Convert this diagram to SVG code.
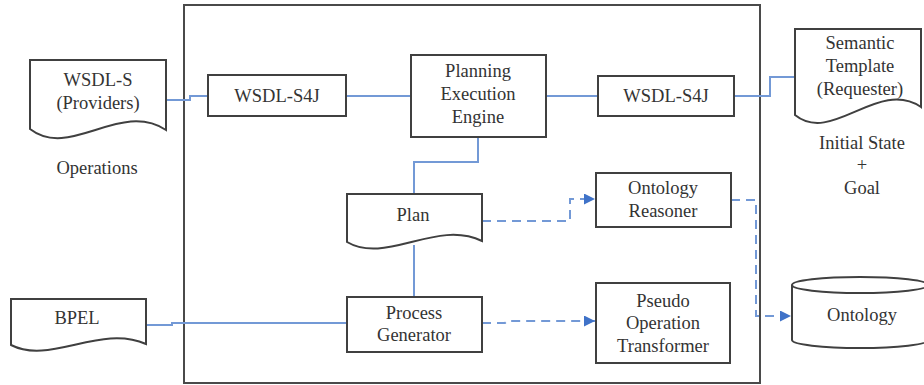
<svg xmlns="http://www.w3.org/2000/svg" width="924" height="385" viewBox="0 0 924 385">
  <style>
    .shape { fill: #ffffff; stroke: #404040; stroke-width: 2; }
    .frame { fill: none; stroke: #4a4a4a; stroke-width: 2; }
    .label { font-family: Liberation Serif, Tinos, Times New Roman, Times, DejaVu Serif, serif; font-size: 18.5px; fill: #333333; text-anchor: middle; }
    .link { fill: none; stroke: #7399d6; stroke-width: 2; }
    .dash { fill: none; stroke: #7399d6; stroke-width: 2; stroke-dasharray: 9 6; }
  </style>
  <defs>
    <marker id="arrow" viewBox="0 0 10 10" refX="10" refY="5" markerWidth="12" markerHeight="11" markerUnits="userSpaceOnUse" orient="auto">
      <path d="M0,0 L10,5 L0,10 Z" fill="#3f72c8"/>
    </marker>
  </defs>

  <rect fill="#ffffff" x="0" y="0" width="924" height="385"/>

  <!-- system boundary -->
  <rect class="frame" x="184" y="5" width="576" height="378"/>

  <!-- connectors -->
  <g id="connectors">
    <polyline class="link" points="166,100 190,100 190,96 208,96"/>
    <line class="link" x1="346" y1="96" x2="411" y2="96"/>
    <line class="link" x1="546" y1="96" x2="598" y2="96"/>
    <polyline class="link" points="734,96 770,96 770,77 795,77"/>
    <polyline class="link" points="478,137 478,162 414,162 414,194"/>
    <line class="link" x1="414" y1="245" x2="414" y2="297"/>
    <polyline class="link" points="146,325 172,325 172,323 347,323"/>
    <polyline class="dash" points="482,221 570,221 570,199 595,199" marker-end="url(#arrow)"/>
    <polyline class="dash" points="731,200 756,200 756,316 791,316" marker-end="url(#arrow)"/>
    <polyline class="dash" points="482,323 505,323 507,321 595,321" marker-end="url(#arrow)"/>
  </g>

  <!-- external inputs -->
  <g id="wsdl-s">
    <path class="shape" d="M30,60 H166 V130 C120,100 70,160 30,129 Z"/>
    <text class="label" x="98" y="86">WSDL-S</text>
    <text class="label" x="98" y="109">(Providers)</text>
    <text class="label" x="97" y="174">Operations</text>
  </g>

  <g id="bpel">
    <path class="shape" d="M11,299 H146 V344 C100,324 50,365 11,345 Z"/>
    <text class="label" x="77" y="324">BPEL</text>
  </g>

  <g id="semantic-template">
    <path class="shape" d="M795,29 H921 V107 C878,78 832,145 795,115 Z"/>
    <text class="label" x="860" y="49">Semantic</text>
    <text class="label" x="860" y="72">Template</text>
    <text class="label" x="860" y="95">(Requester)</text>
    <text class="label" x="862" y="149">Initial State</text>
    <text class="label" x="862" y="171">+</text>
    <text class="label" x="862" y="194">Goal</text>
  </g>

  <g id="ontology">
    <path class="shape" d="M792,285 V340 A68,8 0 0 0 928,340 V285"/>
    <ellipse class="shape" cx="860" cy="285" rx="68" ry="8"/>
    <text class="label" x="862" y="321">Ontology</text>
  </g>

  <!-- internal components -->
  <g id="wsdl-s4j-left">
    <rect class="shape" x="208" y="75" width="138" height="41"/>
    <text class="label" x="277" y="102">WSDL-S4J</text>
  </g>

  <g id="planning-engine">
    <rect class="shape" x="411" y="55" width="135" height="82"/>
    <text class="label" x="478" y="77">Planning</text>
    <text class="label" x="478" y="100">Execution</text>
    <text class="label" x="478" y="123">Engine</text>
  </g>

  <g id="wsdl-s4j-right">
    <rect class="shape" x="598" y="76" width="136" height="40"/>
    <text class="label" x="666" y="102">WSDL-S4J</text>
  </g>

  <g id="plan">
    <path class="shape" d="M347,194 H482 V241 C436,219 386,265 347,242 Z"/>
    <text class="label" x="413" y="221">Plan</text>
  </g>

  <g id="ontology-reasoner">
    <rect class="shape" x="596" y="173" width="135" height="54"/>
    <text class="label" x="663" y="194">Ontology</text>
    <text class="label" x="663" y="217">Reasoner</text>
  </g>

  <g id="process-generator">
    <rect class="shape" x="347" y="297" width="135" height="55"/>
    <text class="label" x="414" y="319">Process</text>
    <text class="label" x="414" y="341">Generator</text>
  </g>

  <g id="pseudo-operation-transformer">
    <rect class="shape" x="596" y="283" width="134" height="80"/>
    <text class="label" x="663" y="307">Pseudo</text>
    <text class="label" x="663" y="329">Operation</text>
    <text class="label" x="663" y="352">Transformer</text>
  </g>
</svg>
